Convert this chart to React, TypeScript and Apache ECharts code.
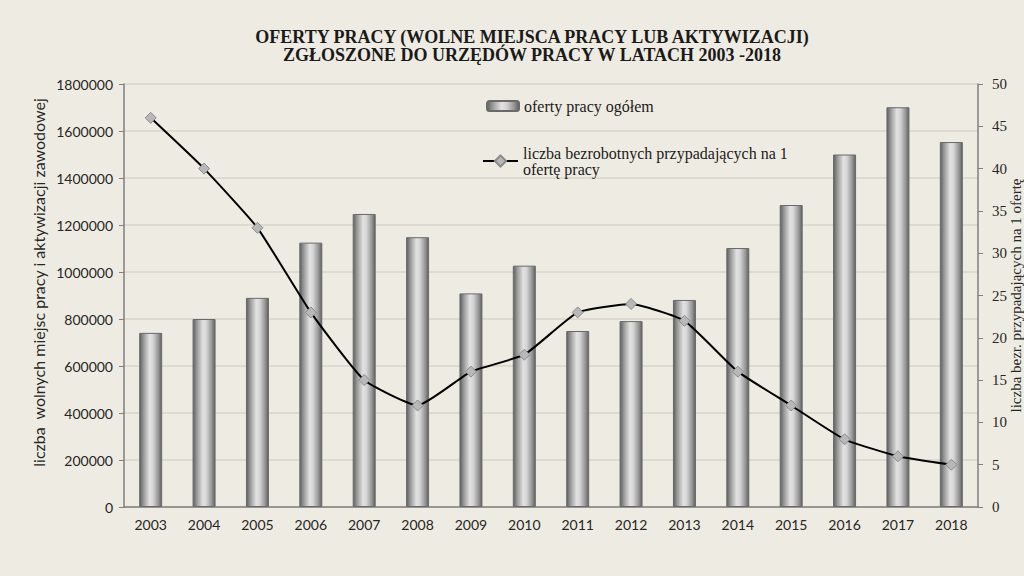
import React, { useEffect, useRef } from "react";
import * as echarts from "echarts";

const years = ["2003","2004","2005","2006","2007","2008","2009","2010","2011","2012","2013","2014","2015","2016","2017","2018"];
const offers = [741000, 800000, 890000, 1125000, 1247000, 1148000, 909000, 1027000, 749000, 791000, 881000, 1102000, 1285000, 1500000, 1701000, 1553000];
const unemployedPerOffer = [46, 40, 33, 23, 15, 12, 16, 18, 23, 24, 22, 16, 12, 8, 6, 5];

const barName = "oferty pracy ogółem";
const lineName = "liczba bezrobotnych przypadających na 1 ofertę pracy";
const titleText = "OFERTY PRACY (WOLNE MIEJSCA PRACY LUB AKTYWIZACJI)\nZGŁOSZONE DO URZĘDÓW PRACY W LATACH 2003 -2018";
const leftAxisName = "liczba  wolnych miejsc pracy i aktywizacji zawodowej";
const rightAxisName = "liczba bezr. przypadających na 1 ofertę";

const serif = "'Liberation Serif', 'Times New Roman', serif";
const sans = "Lato, 'Liberation Sans', sans-serif";

export default function App() {
  const ref = useRef<HTMLDivElement>(null);
  useEffect(() => {
    if (!ref.current) return;
    const chart = echarts.init(ref.current, null, { renderer: "svg" });
    const barGradient = new echarts.graphic.LinearGradient(0, 0, 1, 0, [
      { offset: 0, color: "#5f5f5f" },
      { offset: 0.18, color: "#9a9a9a" },
      { offset: 0.45, color: "#e2e2e2" },
      { offset: 0.6, color: "#d6d6d6" },
      { offset: 0.85, color: "#959595" },
      { offset: 1, color: "#5f5f5f" },
    ]);
    chart.setOption({
      animation: false,
      backgroundColor: "#eeece2",
      title: {
        text: titleText,
        left: 532,
        top: 28,
        textAlign: "center",
        padding: 0,
        textStyle: { fontFamily: serif, fontSize: 18, fontWeight: "bold", color: "#1a1a1a", lineHeight: 18 },
      },
      legend: [
        {
          data: [barName],
          left: 486,
          top: 98,
          padding: 0,
          itemWidth: 32,
          itemHeight: 10,
          textStyle: { fontFamily: serif, fontSize: 16, color: "#1a1a1a" },
        },
        {
          data: [lineName],
          left: 482,
          top: 137,
          padding: 0,
          itemWidth: 35,
          itemHeight: 14,
          formatter: () => "liczba bezrobotnych przypadających na 1\nofertę pracy",
          textStyle: { fontFamily: serif, fontSize: 16, color: "#1a1a1a", lineHeight: 16, padding: [16, 0, 0, 0] },
        },
      ],
      grid: { left: 124, right: 46, top: 84, bottom: 69, containLabel: false, outerBoundsMode: "none" },
      xAxis: {
        type: "category",
        data: years,
        axisLine: { lineStyle: { color: "#7f7f7f", width: 1.5 } },
        axisTick: { show: false },
        axisLabel: { fontFamily: sans, fontSize: 14, color: "#262626", margin: 10 },
      },
      yAxis: [
        {
          type: "value",
          min: 0,
          max: 1800000,
          interval: 200000,
          name: leftAxisName,
          nameLocation: "middle",
          nameRotate: 90,
          nameGap: 78,
          nameMoveOverlap: false,
          nameTextStyle: { fontFamily: sans, fontSize: 16, color: "#262626", padding: [0, 0, 0, 26] },
          axisLine: { show: true, lineStyle: { color: "#7f7f7f", width: 1.5 } },
          axisTick: { show: true, length: 5, lineStyle: { color: "#7f7f7f" } },
          axisLabel: { fontFamily: sans, fontSize: 14, color: "#262626", margin: 11, formatter: (v: number) => String(v) },
          splitLine: { lineStyle: { color: "#d8d5c9", width: 1.5 } },
        },
        {
          type: "value",
          min: 0,
          max: 50,
          interval: 5,
          position: "right",
          name: rightAxisName,
          nameLocation: "middle",
          nameRotate: 90,
          nameGap: 30,
          nameMoveOverlap: false,
          nameTextStyle: { fontFamily: serif, fontSize: 15, color: "#262626" },
          axisLine: { show: true, lineStyle: { color: "#7f7f7f", width: 1.5 } },
          axisTick: { show: true, length: 5, lineStyle: { color: "#7f7f7f" } },
          axisLabel: { fontFamily: serif, fontSize: 15, color: "#262626", margin: 14 },
          splitLine: { show: false },
        },
      ],
      series: [
        {
          name: barName,
          type: "bar",
          data: offers,
          barWidth: 23,
          itemStyle: { color: barGradient, borderColor: "#6a6a6a", borderWidth: 1 },
        },
        {
          name: lineName,
          type: "line",
          yAxisIndex: 1,
          data: unemployedPerOffer,
          smooth: 0.15,
          symbol: "diamond",
          symbolSize: 11,
          lineStyle: { color: "#000000", width: 2 },
          itemStyle: { color: "#b8b8b8", borderColor: "#8a8a8a", borderWidth: 1 },
          z: 5,
        },
      ],
    });
    return () => chart.dispose();
  }, []);
  return (
    <div
      ref={ref}
      style={{ position: "fixed", left: 0, top: 0, width: 1024, height: 576 }}
    />
  );
}
